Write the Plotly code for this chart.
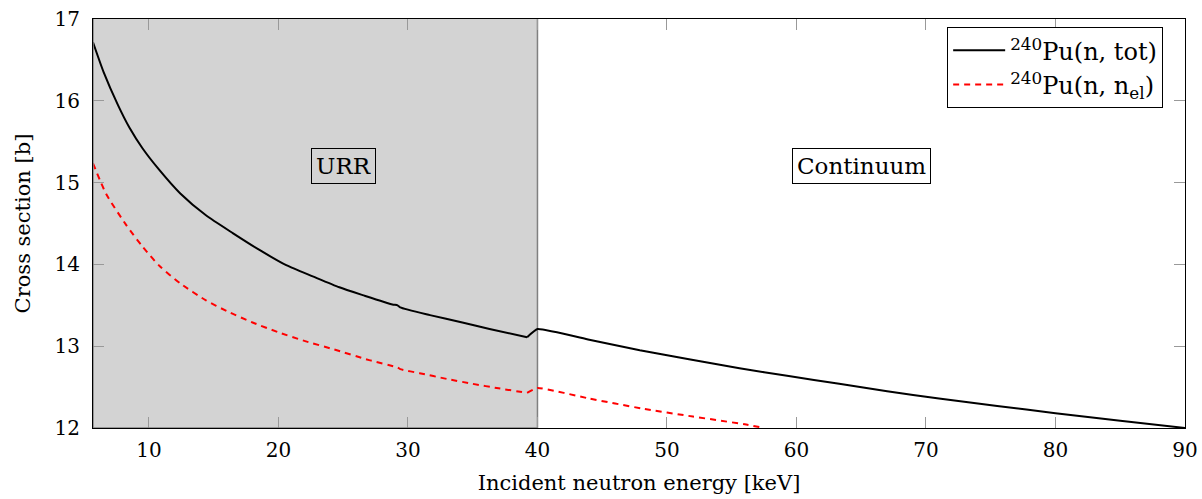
import plotly.graph_objects as go

# ---- data ----
e_tot = [5.68, 6.5, 7.6, 8.5, 9.5, 10.8, 12.4, 14.4, 16.5, 18.5, 20.6, 22.7, 24.7, 26.5,
         28.8, 29.2, 29.4, 31.7, 34.2, 36.3, 39.2,
         40, 44, 47.9, 51.7, 55.6, 59.4, 63.3, 67, 71, 75.5, 80, 85, 90]
xs_tot = [16.715, 16.35, 15.95, 15.67, 15.42, 15.155, 14.87, 14.60, 14.38, 14.18, 13.99, 13.85, 13.72, 13.625,
          13.51, 13.50, 13.475, 13.38, 13.29, 13.21, 13.11,
          13.21, 13.08, 12.95, 12.84, 12.73, 12.635, 12.54, 12.45, 12.36, 12.27, 12.18, 12.09, 12.00]

e_el = [5.68, 6.7, 8.25, 9.54, 10.82, 12.4, 14.4, 16.0, 18.0, 20.0, 22.0, 24.3, 27.0,
        29.2, 29.4, 30.9, 33.0, 35.0, 37.0, 39.2,
        40, 44, 48, 52, 56, 57.5]
xs_el = [15.236, 14.86, 14.48, 14.21, 13.98, 13.77, 13.56, 13.43, 13.29, 13.17, 13.065, 12.96, 12.83,
         12.74, 12.72, 12.67, 12.60, 12.54, 12.485, 12.43,
         12.49, 12.36, 12.24, 12.14, 12.045, 12.00]

x_min, x_max = 5.68, 90
y_min, y_max = 12, 17
urr_end = 40
x_ticks = [10, 20, 30, 40, 50, 60, 70, 80, 90]
y_ticks = [12, 13, 14, 15, 16, 17]

FONT = "DejaVu Serif"
name_tot = "<sup>240</sup>Pu(n, tot)"
name_el = "<sup>240</sup>Pu(n, n<sub>el</sub>)"

fig = go.Figure()


def split_at(xs, ys, xk):
    k = xs.index(xk)
    return (xs[:k + 1], ys[:k + 1]), (xs[k:], ys[k:])


(ta, tb) = split_at(e_tot, xs_tot, 39.2)
(ea, eb) = split_at(e_el, xs_el, 39.2)

tot_line = dict(color="black", width=2)
el_line = dict(color="red", width=2, dash="6px,5px")

fig.add_trace(go.Scatter(x=ta[0], y=ta[1], mode="lines", name=name_tot, legendgroup="tot",
                         line=dict(**tot_line, shape="spline", smoothing=0.6)))
fig.add_trace(go.Scatter(x=tb[0], y=tb[1], mode="lines", name=name_tot, legendgroup="tot",
                         showlegend=False, line=dict(**tot_line, shape="spline", smoothing=0.4)))
fig.add_trace(go.Scatter(x=ea[0], y=ea[1], mode="lines", name=name_el, legendgroup="el",
                         line=dict(**el_line, shape="spline", smoothing=0.6)))
fig.add_trace(go.Scatter(x=eb[0], y=eb[1], mode="lines", name=name_el, legendgroup="el",
                         showlegend=False, line=dict(**el_line, shape="spline", smoothing=0.4)))

# shaded URR region
fig.add_shape(type="rect", x0=x_min, x1=urr_end, y0=y_min, y1=y_max,
              fillcolor="#d3d3d3", line=dict(width=0), layer="below")
fig.add_shape(type="line", x0=urr_end, x1=urr_end, y0=y_min, y1=y_max,
              line=dict(color="#808080", width=1.5), layer="below")
fig.add_shape(type="line", x0=x_min, x1=x_min, y0=y_min, y1=y_max,
              line=dict(color="#808080", width=1.5), layer="above")
fig.add_shape(type="line", x0=x_min, x1=urr_end, y0=y_min, y1=y_min,
              line=dict(color="#808080", width=1.5), layer="above")

fig.add_annotation(x=25, y=15.2, text="URR", showarrow=False,
                   font=dict(family=FONT, size=23, color="black"),
                   bordercolor="black", borderwidth=1, borderpad=4)
fig.add_annotation(x=65, y=15.2, text="Continuum", showarrow=False,
                   font=dict(family=FONT, size=23, color="black"),
                   bordercolor="black", borderwidth=1, borderpad=4, bgcolor="white")

axis_common = dict(showgrid=False, zeroline=False, showline=True, linecolor="black",
                   linewidth=1, mirror="ticks", ticks="inside", ticklen=11,
                   tickcolor="#999999", tickwidth=1, automargin=False,
                   tickfont=dict(family=FONT, size=20, color="black"))

fig.update_xaxes(range=[x_min, x_max], tickvals=x_ticks, ticklabelstandoff=4,
                 title=dict(text="Incident neutron energy [keV]", standoff=14,
                            font=dict(family=FONT, size=21, color="black")),
                 **axis_common)
fig.update_yaxes(range=[y_min, y_max], tickvals=y_ticks, ticklabelstandoff=8,
                 title=dict(text="Cross section [b]", standoff=18,
                            font=dict(family=FONT, size=21, color="black")),
                 **axis_common)

fig.update_layout(
    width=1202, height=499,
    margin=dict(l=93, r=17, t=19, b=71),
    plot_bgcolor="white", paper_bgcolor="white",
    showlegend=True,
    legend=dict(x=0.98, y=0.98, xanchor="right", yanchor="top",
                bordercolor="black", borderwidth=1, bgcolor="white",
                font=dict(family=FONT, size=24, color="black"),
                tracegroupgap=0, itemwidth=52),
)

fig.write_html("out.html")
